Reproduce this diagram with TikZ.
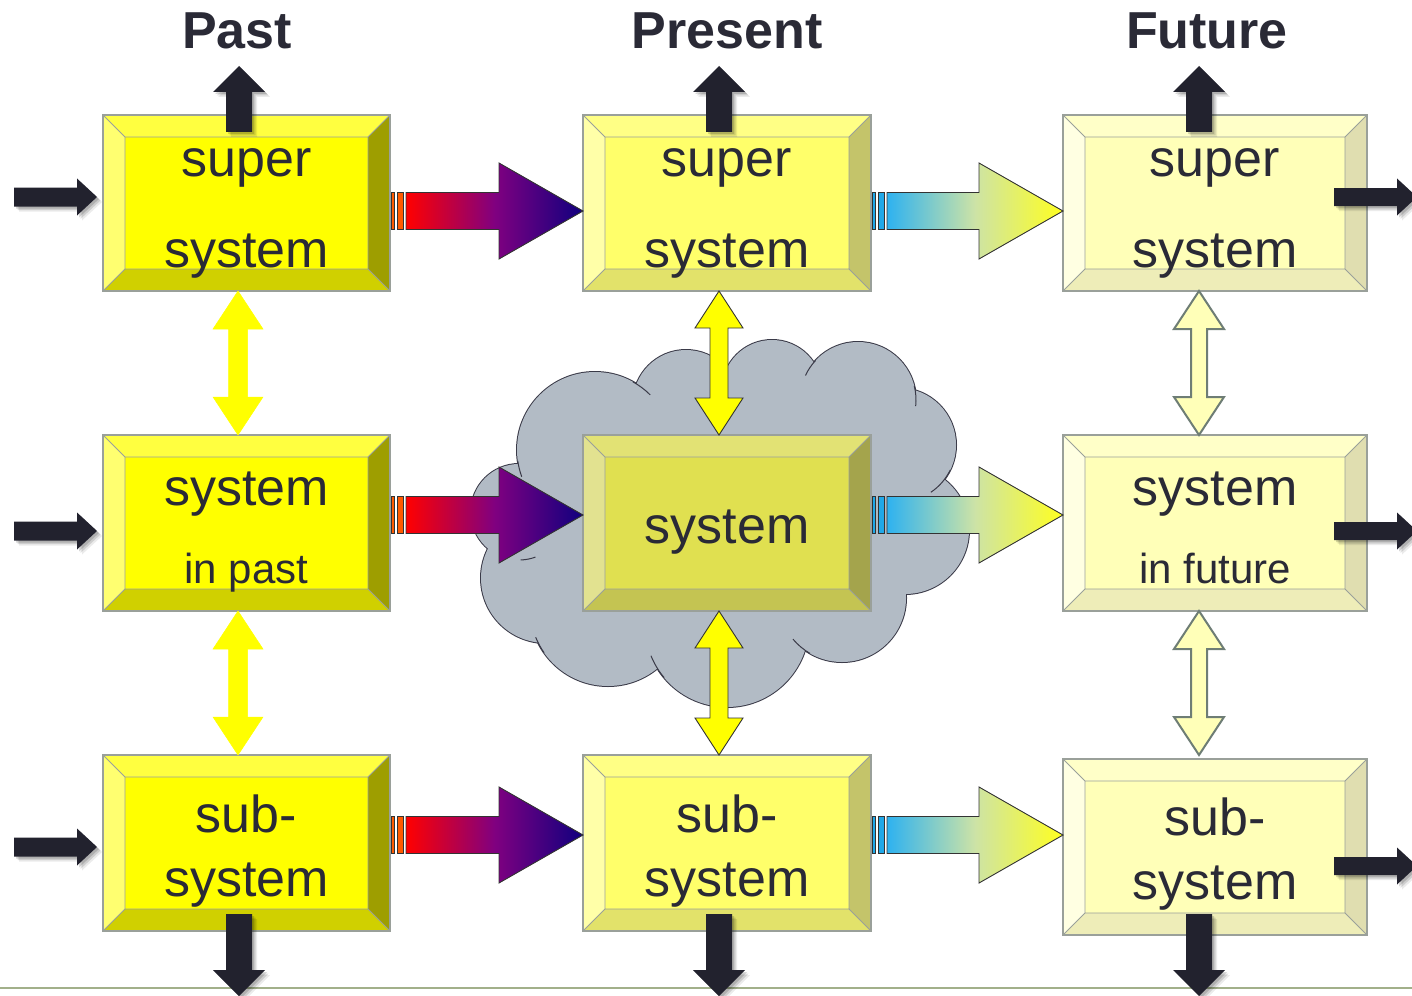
\documentclass[tikz,border=0pt]{standalone}
\usepackage{fontspec}
\setmainfont{Liberation Sans}
\usetikzlibrary{calc}

% text and line colours
\definecolor{ink}{HTML}{2A2A36}
\definecolor{darkarrow}{HTML}{22222E}
\definecolor{edgegray}{HTML}{9AA09A}
\definecolor{cloudfill}{HTML}{B2BBC5}
\definecolor{cloudline}{HTML}{3A3A48}
\definecolor{groundline}{HTML}{A2B08A}
\definecolor{pureyellow}{HTML}{FFFF00}
% bevel palettes: past, present, future, centre
\definecolor{paface}{HTML}{FFFF00}\definecolor{patop}{HTML}{FFFF40}\definecolor{paleft}{HTML}{FFFF70}\definecolor{paright}{HTML}{9E9E00}\definecolor{pabot}{HTML}{D0D000}
\definecolor{pbface}{HTML}{FFFF6A}\definecolor{pbtop}{HTML}{FFFF85}\definecolor{pbleft}{HTML}{FFFFA8}\definecolor{pbright}{HTML}{C4C46A}\definecolor{pbbot}{HTML}{E2E26A}
\definecolor{pcface}{HTML}{FFFFB8}\definecolor{pctop}{HTML}{FFFFC8}\definecolor{pcleft}{HTML}{FFFFE2}\definecolor{pcright}{HTML}{E0DEB0}\definecolor{pcbot}{HTML}{EEEDB8}
\definecolor{pdface}{HTML}{E0E050}\definecolor{pdtop}{HTML}{E2E274}\definecolor{pdleft}{HTML}{E2E290}\definecolor{pdright}{HTML}{A4A44C}\definecolor{pdbot}{HTML}{C4C452}
% gradient arrows
\definecolor{redA}{HTML}{FF0000}\definecolor{redB}{HTML}{800080}\definecolor{redC}{HTML}{10007F}\definecolor{redStripe}{HTML}{FF5A00}
\definecolor{bluA}{HTML}{2EB2F0}\definecolor{bluB}{HTML}{CDE3A6}\definecolor{bluC}{HTML}{FFFF20}\definecolor{bluStripe}{HTML}{20A8E8}
\definecolor{paleyellow}{HTML}{FFFFB8}\definecolor{paleedge}{HTML}{6E7D75}

\tikzset{
  boxnode/.style={rectangle,inner sep=0pt,outer sep=0pt,draw=none},
  edge/.style={draw=edgegray,line width=1.3pt,line join=miter},
  lbl/.style={font=\fontsize{52}{60}\selectfont,text=ink,inner sep=0pt,anchor=base},
  small/.style={font=\fontsize{42}{50}\selectfont,text=ink,inner sep=0pt,anchor=base},
  title/.style={font=\fontsize{52}{60}\selectfont\bfseries,text=ink,inner sep=0pt,anchor=base},
  darkfill/.style={fill=darkarrow},
  % middle color goes last: left/right color reset it
  redflow/.style={left color=redA,right color=redC,middle color=redB,draw=black!80,line width=0.9pt},
  blueflow/.style={left color=bluA,right color=bluC,middle color=bluB,draw=black!80,line width=0.9pt},
  yelA/.style={fill=pureyellow,draw=pureyellow,line width=0.5pt},
  yelB/.style={fill=pureyellow,draw=black!80,line width=0.9pt},
  yelC/.style={fill=paleyellow,draw=paleedge,line width=2pt,line join=miter},
  puffline/.style={draw=cloudline,line width=1pt},
}

% bevelled box: name, north-west corner, width, height, palette
\newcommand\bevelbox[5]{%
  \node[boxnode,minimum width=#3pt,minimum height=#4pt,anchor=north west,fill=#5face] (#1) at #2 {};
  \fill[#5top] (#1.north west) -- (#1.north east) -- ($(#1.north east)+(-22,22)$) -- ($(#1.north west)+(22,22)$) -- cycle;
  \fill[#5left] (#1.north west) -- ($(#1.north west)+(22,22)$) -- ($(#1.south west)+(22,-22)$) -- (#1.south west) -- cycle;
  \fill[#5right] (#1.north east) -- ($(#1.north east)+(-22,22)$) -- ($(#1.south east)+(-22,-22)$) -- (#1.south east) -- cycle;
  \fill[#5bot] (#1.south west) -- ($(#1.south west)+(22,-22)$) -- ($(#1.south east)+(-22,-22)$) -- (#1.south east) -- cycle;
  \draw[edge,line width=0.9pt] ($(#1.north west)+(22,22)$) rectangle ($(#1.south east)+(-22,-22)$)
    (#1.north west) -- ($(#1.north west)+(22,22)$) (#1.north east) -- ($(#1.north east)+(-22,22)$)
    (#1.south west) -- ($(#1.south west)+(22,-22)$) (#1.south east) -- ($(#1.south east)+(-22,-22)$);
  \draw[edge] (#1.north west) rectangle (#1.south east);
}

% block arrows: style, tail, tip, shaft half width, head half width, head length
\newcommand\rightblock[6]{%
  \path[#1] ($#2+(0,-#4)$) -- ($#3+(-#6,-#4)$) -- ($#3+(-#6,-#5)$) -- #3 -- ($#3+(-#6,#5)$) -- ($#3+(-#6,#4)$) -- ($#2+(0,#4)$) -- cycle;}
\newcommand\upblock[6]{%
  \path[#1] ($#2+(-#4,0)$) -- ($#3+(-#4,#6)$) -- ($#3+(-#5,#6)$) -- #3 -- ($#3+(#5,#6)$) -- ($#3+(#4,#6)$) -- ($#2+(#4,0)$) -- cycle;}
\newcommand\downblock[6]{%
  \path[#1] ($#2+(-#4,0)$) -- ($#3+(-#4,-#6)$) -- ($#3+(-#5,-#6)$) -- #3 -- ($#3+(#5,-#6)$) -- ($#3+(#4,-#6)$) -- ($#2+(#4,0)$) -- cycle;}
% two-headed vertical arrow: style, upper tip, lower tip, shaft half, head half, head length
\newcommand\bothblock[6]{%
  \path[#1] #2 -- ($#2+(#5,#6)$) -- ($#2+(#4,#6)$) -- ($#3+(#4,-#6)$) -- ($#3+(#5,-#6)$) -- #3
    -- ($#3+(-#5,-#6)$) -- ($#3+(-#4,-#6)$) -- ($#2+(-#4,#6)$) -- ($#2+(-#5,#6)$) -- cycle;}

% dark arrows with a soft drop shadow
\newcommand\withshadow[2]{%
  \begin{scope}[transform canvas={xshift=5pt,yshift=-5pt}]#1{fill=black,opacity=0.08}#2\end{scope}
  \begin{scope}[transform canvas={xshift=3.5pt,yshift=-3.5pt}]#1{fill=black,opacity=0.12}#2\end{scope}
  \begin{scope}[transform canvas={xshift=2pt,yshift=-2pt}]#1{fill=black,opacity=0.15}#2\end{scope}
  #1{darkfill}#2}

% striped-tail gradient arrow: style, stripe colour, tail, tip
\newcommand\flowarrow[4]{%
  \fill[#2,draw=black!80,line width=0.8pt] ($#3+(1,-18.5)$) rectangle ($#3+(4,18.5)$);
  \fill[#2,draw=black!80,line width=0.8pt] ($#3+(7,-18.5)$) rectangle ($#3+(13,18.5)$);
  \rightblock{#1}{($#3+(16,0)$)}{#4}{18.5}{48}{84}}

\begin{document}
\begin{tikzpicture}[x=1pt,y=-1pt]
\useasboundingbox (0,0) rectangle (1412,995);
\fill[white] (0,0) rectangle (1412,995);

% ground line
\coordinate (gl) at (0,988);
\coordinate (gr) at (1412,988);
\draw[groundline,line width=1.6pt] (gl) -- (gr);

% cloud round the present system: outlined puffs, then filled over
\begin{scope}
  \foreach \cx/\cy/\r in {595/450/78,686/403/53,772/390/50,858/400/58,899/445/57,905/530/64,842/598/64,727/625/82,608/608/78,546/578/65,519/512/48}
    \draw[cloudline,line width=2pt] (\cx,\cy) circle (\r);
  \foreach \cx/\cy/\r in {595/450/78,686/403/53,772/390/50,858/400/58,899/445/57,905/530/64,842/598/64,727/625/82,608/608/78,546/578/65,519/512/48}
    \fill[cloudfill] (\cx,\cy) circle (\r);
  \fill[cloudfill] (560,430) rectangle (880,610);
  \fill[cloudfill] (640,400) rectangle (880,610);
  % short inner strokes where the puffs meet
  \foreach \cx/\cy/\r/\a/\b in {595/450/78/-61/-45, 858/400/58/-155/-137, 858/400/58/-14/6,
      899/445/57/26/56, 842/598/64/120/140, 727/625/82/140/158, 608/608/78/145/158,
      519/512/48/70/88, 595/450/78/160/172}
    \draw[puffline] (\cx,\cy) ++(\a:\r) arc[start angle=\a,end angle=\b,radius=\r];
\end{scope}

% headings
\node[title] (hpast) at (237,49) {Past};
\node[title] (hpresent) at (727,49) {Present};
\node[title] (hfuture) at (1207,49) {Future};

% boxes
\bevelbox{b11}{(103,115)}{287}{176}{pa}
\bevelbox{b12}{(103,435)}{287}{176}{pa}
\bevelbox{b13}{(103,755)}{287}{176}{pa}
\bevelbox{b21}{(583,115)}{288}{176}{pb}
\bevelbox{b22}{(583,435)}{288}{176}{pd}
\bevelbox{b23}{(583,755)}{288}{176}{pb}
\bevelbox{b31}{(1063,115)}{304}{176}{pc}
\bevelbox{b32}{(1063,435)}{304}{176}{pc}
\bevelbox{b33}{(1063,759)}{304}{176}{pc}

% labels
\node[lbl] (l11a) at ($(b11.north)+(0,62)$) {super};
\node[lbl] (l11b) at ($(b11.north)+(0,152)$) {system};
\node[lbl] (l12a) at ($(b12.north)+(0,70)$) {system};
\node[small] (l12b) at ($(b12.north)+(0,148)$) {in past};
\node[lbl] (l13a) at ($(b13.north)+(0,77)$) {sub-};
\node[lbl] (l13b) at ($(b13.north)+(0,141)$) {system};
\node[lbl] (l21a) at ($(b21.north)+(0,62)$) {super};
\node[lbl] (l21b) at ($(b21.north)+(0,152)$) {system};
\node[lbl] (l22a) at ($(b22.north)+(0,108)$) {system};
\node[lbl] (l23a) at ($(b23.north)+(0,77)$) {sub-};
\node[lbl] (l23b) at ($(b23.north)+(0,141)$) {system};
\node[lbl] (l31a) at ($(b31.north)+(0,62)$) {super};
\node[lbl] (l31b) at ($(b31.north)+(0,152)$) {system};
\node[lbl] (l32a) at ($(b32.north)+(0,70)$) {system};
\node[small] (l32b) at ($(b32.north)+(0,148)$) {in future};
\node[lbl] (l33a) at ($(b33.north)+(0,76)$) {sub-};
\node[lbl] (l33b) at ($(b33.north)+(0,140)$) {system};

% flows from past to present (red) and present to future (blue)
\flowarrow{redflow}{redStripe}{(b11.east |- 0,211)}{(b21.west |- 0,211)}
\flowarrow{redflow}{redStripe}{(b12.east |- 0,515)}{(b22.west |- 0,515)}
\flowarrow{redflow}{redStripe}{(b13.east |- 0,835)}{(b23.west |- 0,835)}
\flowarrow{blueflow}{bluStripe}{(b21.east |- 0,211)}{(b31.west |- 0,211)}
\flowarrow{blueflow}{bluStripe}{(b22.east |- 0,515)}{(b32.west |- 0,515)}
\flowarrow{blueflow}{bluStripe}{(b23.east |- 0,835)}{(b33.west |- 0,835)}

% links between levels
\bothblock{yelA}{(238,0 |- b11.south)}{(238,0 |- b12.north)}{9.5}{25}{38}
\bothblock{yelA}{(238,0 |- b12.south)}{(238,0 |- b13.north)}{9.5}{25}{38}
\bothblock{yelB}{(719,0 |- b21.south)}{(719,0 |- b22.north)}{9}{24}{37}
\bothblock{yelB}{(719,0 |- b22.south)}{(719,0 |- b23.north)}{9}{24}{37}
\bothblock{yelC}{(1199,0 |- b31.south)}{(1199,0 |- b32.north)}{8}{25}{38}
\bothblock{yelC}{(1199,0 |- b32.south)}{($(1199,0 |- b33.north)+(0,-4)$)}{8}{25}{38}

% inputs on the left
\coordinate (in1) at (14,197);
\coordinate (in2) at (14,531);
\coordinate (in3) at (14,847);
\withshadow{\rightblock}{{(in1)}{($(b11.west |- in1)+(-6,0)$)}{9.5}{18.5}{20}}
\withshadow{\rightblock}{{(in2)}{($(b12.west |- in2)+(-6,0)$)}{9.5}{18.5}{20}}
\withshadow{\rightblock}{{(in3)}{($(b13.west |- in3)+(-6,0)$)}{9.5}{18.5}{20}}

% outputs on the right
\coordinate (out1) at (1417,197);
\coordinate (out2) at (1417,531);
\coordinate (out3) at (1417,866);
\withshadow{\rightblock}{{($(b31.east |- out1)+(-33,0)$)}{(out1)}{9}{18.5}{20}}
\withshadow{\rightblock}{{($(b32.east |- out2)+(-33,0)$)}{(out2)}{9}{18.5}{20}}
\withshadow{\rightblock}{{($(b33.east |- out3)+(-33,0)$)}{(out3)}{9}{18.5}{20}}

% outputs upward
\coordinate (up1) at (239,66);
\coordinate (up2) at (719,66);
\coordinate (up3) at (1199,66);
\withshadow{\upblock}{{($(up1 |- b11.north)+(0,17)$)}{(up1)}{13}{26}{26}}
\withshadow{\upblock}{{($(up2 |- b21.north)+(0,17)$)}{(up2)}{13}{26}{26}}
\withshadow{\upblock}{{($(up3 |- b31.north)+(0,17)$)}{(up3)}{13}{26}{26}}

% outputs downward
\coordinate (dn1) at (239,996);
\coordinate (dn2) at (719,996);
\coordinate (dn3) at (1199,996);
\withshadow{\downblock}{{($(dn1 |- b13.south)+(0,-17)$)}{(dn1)}{13}{26}{26}}
\withshadow{\downblock}{{($(dn2 |- b23.south)+(0,-17)$)}{(dn2)}{13}{26}{26}}
\withshadow{\downblock}{{($(dn3 |- b33.south)+(0,-21)$)}{(dn3)}{13}{26}{26}}

\end{tikzpicture}
\end{document}
